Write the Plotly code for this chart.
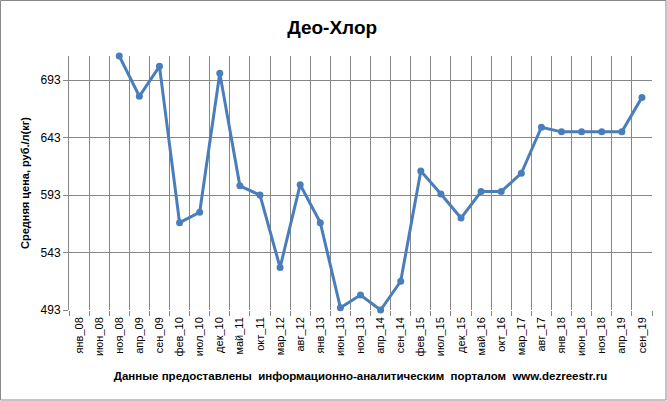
import plotly.graph_objects as go

# Months on the category axis
months = ["янв_08", "июн_08", "ноя_08", "апр_09", "сен_09", "фев_10", "июл_10", "дек_10",
          "май_11", "окт_11", "мар_12", "авг_12", "янв_13", "июн_13", "ноя_13", "апр_14",
          "сен_14", "фев_15", "июл_15", "дек_15", "май_16", "окт_16", "мар_17", "авг_17",
          "янв_18", "июн_18", "ноя_18", "апр_19", "сен_19"]

# Average price, rub per l(kg); no data for the first two months
prices = [None, None, 714, 679, 705, 569, 578, 699,
          601, 593, 530, 602, 569, 495, 506, 493,
          518, 614, 594, 573, 596, 596, 612, 652,
          648, 648, 648, 648, 678]

y_ticks = [493, 543, 593, 643, 693]

fig = go.Figure()

fig.add_trace(go.Scatter(
    x=months, y=prices, mode="lines+markers",
    line=dict(color="#4A7EBB", width=3),
    marker=dict(color="#4A7EBB", size=7),
    cliponaxis=False, showlegend=False,
))

grid = "#868686"

fig.update_layout(
    width=667, height=401,
    margin=dict(l=69, r=15, t=56, b=91),
    paper_bgcolor="white", plot_bgcolor="white",
    font=dict(family="Liberation Sans, Arial, sans-serif", color="black"),
    title=dict(text="Део-Хлор", x=0.498, xanchor="center", y=1 - 27 / 401, yanchor="middle",
               yref="container", font=dict(size=19, weight="bold")),
    xaxis=dict(
        type="category", tickangle=-90, tickfont=dict(size=11),
        showgrid=True, gridcolor=grid, gridwidth=1, tickson="boundaries",
        ticks="outside", ticklen=5, tickcolor=grid, ticklabelstandoff=4,
        range=[-0.5, len(months) - 0.5], showline=False, zeroline=False,
        automargin=False,
        title=dict(text="Данные предоставлены  информационно-аналитическим  порталом  www.dezreestr.ru",
                   font=dict(size=11.5, weight="bold"), standoff=16),
    ),
    yaxis=dict(
        range=[493, 714], tickvals=y_ticks, tickfont=dict(size=12),
        showgrid=True, gridcolor=grid, gridwidth=1,
        ticks="outside", ticklen=5, tickcolor=grid,
        showline=True, linecolor=grid, zeroline=False,
        automargin=False,
        title=dict(text="Средняя цена, руб./л(кг)", font=dict(size=11, weight="bold"), standoff=8),
    ),
)

# Chart border
pw, ph = 667 - 69 - 15, 401 - 56 - 91
fig.add_shape(type="rect", xref="paper", yref="paper",
              x0=(0.5 - 69) / pw, x1=(666 - 69) / pw,
              y0=(310 - 400) / ph, y1=(310 - 0.5) / ph,
              line=dict(color="#888888", width=1), layer="below")

fig.write_html("out.html", config={"displayModeBar": False},
               post_script="document.body.style.margin='0';")
